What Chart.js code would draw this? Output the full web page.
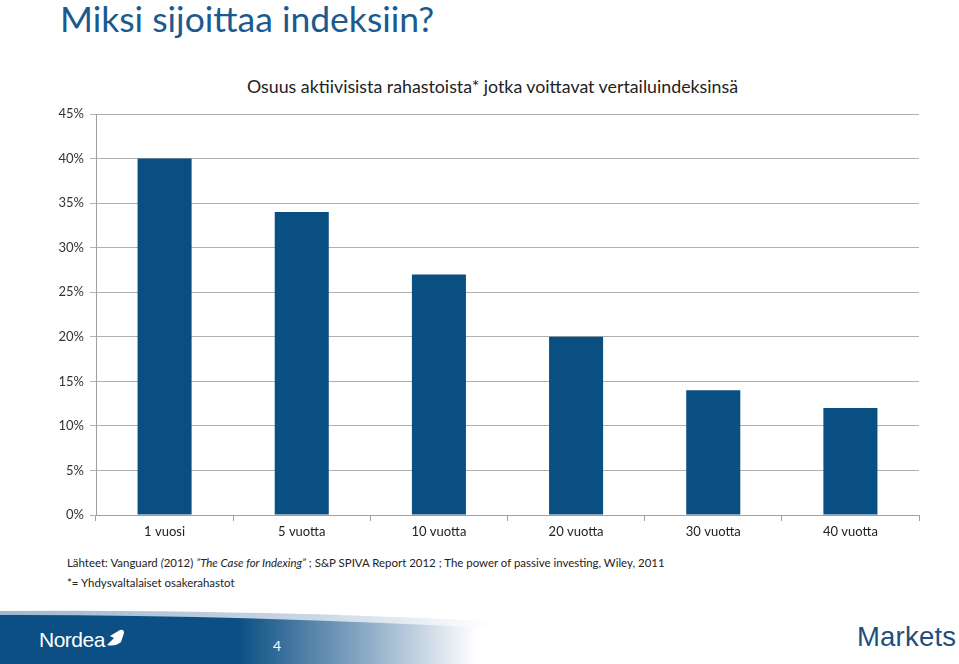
<!DOCTYPE html>
<html>
<head>
<meta charset="utf-8">
<script src="https://cdn.jsdelivr.net/npm/chart.js@4.4.0/dist/chart.umd.min.js"></script>
<style>
  html, body { margin:0; padding:0; background:#fff; }
  body { width:959px; height:664px; position:relative; overflow:hidden; font-family: Lato, "Open Sans", sans-serif; }
  #title { position:absolute; left:60px; top:-3px; font-size:35.5px; color:#1a5a8f; white-space:nowrap; }
  #ctitle { position:absolute; left:0; width:985px; text-align:center; top:75px; font-size:17.8px; color:#222; white-space:nowrap; }
  #wrap { position:absolute; left:0; top:60px; width:959px; height:490px; }
  .note { position:absolute; left:67px; font-size:11.45px; color:#222; white-space:nowrap; }
  #footer { position:absolute; left:0; top:600px; width:959px; height:64px; }
  #nordea { position:absolute; left:39px; top:628px; font-size:21px; color:#fff; font-family:"Liberation Sans", Arial, sans-serif; letter-spacing:-0.5px; }
  #pnum { position:absolute; left:273px; top:637px; font-size:14px; color:#fff; }
  #markets { position:absolute; left:857px; top:621px; font-size:27.5px; color:#1d4f80; font-family:"Liberation Sans", Arial, sans-serif; letter-spacing:0.2px; }
</style>
</head>
<body>
<div id="title">Miksi sijoittaa indeksiin?</div>
<div id="ctitle">Osuus aktiivisista rahastoista* jotka voittavat vertailuindeksinsä</div>
<div id="wrap"><canvas id="c" width="959" height="490"></canvas></div>
<div class="note" style="top:556px">Lähteet: Vanguard <i>(</i>2012) <i>”The Case for Indexing”</i> ; S&amp;P SPIVA Report 2012 ; The power of passive investing, Wiley, 2011</div>
<div class="note" style="top:576px">*= Yhdysvaltalaiset osakerahastot</div>
<svg id="footer" width="959" height="64" viewBox="0 0 959 64">
  <defs>
    <linearGradient id="g1" x1="0" x2="1" y1="0" y2="0">
      <stop offset="0" stop-color="#0b4f84"/>
      <stop offset="0.34" stop-color="#0b4f84"/>
      <stop offset="0.52" stop-color="#8aa9c4"/>
      <stop offset="0.68" stop-color="#ffffff"/>
      <stop offset="1" stop-color="#ffffff"/>
    </linearGradient>
    <linearGradient id="g2" x1="0" x2="1" y1="0" y2="0">
      <stop offset="0" stop-color="#9fb8cf"/>
      <stop offset="0.45" stop-color="#c9d7e4"/>
      <stop offset="0.7" stop-color="#ffffff"/>
    </linearGradient>
  </defs>
  <path d="M0,11 Q300,8 700,32 L700,64 L0,64 Z" fill="url(#g2)"/>
  <path d="M0,15 Q300,14 700,40 L700,64 L0,64 Z" fill="url(#g1)"/>
  <path d="M110,36 L120,30 Q124,29 124,33 L121,42 Q115,47 107,45 L114,38 Z" fill="#fff"/>
</svg>
<div id="nordea">Nordea</div>
<div id="pnum">4</div>
<div id="markets">Markets</div>
<script>
const categories = ["1 vuosi", "5 vuotta", "10 vuotta", "20 vuotta", "30 vuotta", "40 vuotta"];
const shareBeating = [40, 34, 27, 20, 14, 12];
const yTicks = [0, 5, 10, 15, 20, 25, 30, 35, 40, 45];

new Chart(document.getElementById('c'), {
  type: 'bar',
  data: {
    labels: categories,
    datasets: [{
      data: shareBeating,
      backgroundColor: '#0a4f82',
      borderWidth: 0,
      categoryPercentage: 1.0,
      barPercentage: 0.394
    }]
  },
  options: {
    responsive: false,
    animation: false,
    layout: { padding: { left: 0, right: 40, top: 54, bottom: 5 } },
    plugins: { legend: { display: false }, title: { display: false }, tooltip: { enabled: false } },
    scales: {
      x: {
        grid: { display: true, drawOnChartArea: false, drawTicks: true, tickLength: 6, color: '#a0a0a0', offset: true },
        border: { display: true, color: '#a0a0a0', width: 1 },
        ticks: { color: '#222', font: { family: 'Lato', size: 13 }, padding: 3, maxRotation: 0 },
        afterFit: (s) => { s.height = 30; }
      },
      y: {
        min: 0, max: 45,
        afterBuildTicks: (s) => { s.ticks = yTicks.map(v => ({ value: v })); },
        grid: { color: '#b0b0b0', drawTicks: true, tickLength: 6 },
        border: { display: true, color: '#a0a0a0', width: 1 },
        ticks: { color: '#333', font: { family: 'Lato', size: 13 }, padding: 6, callback: (v) => v + '%' },
        afterFit: (s) => { s.width = 96; }
      }
    }
  }
});
</script>
</body>
</html>
